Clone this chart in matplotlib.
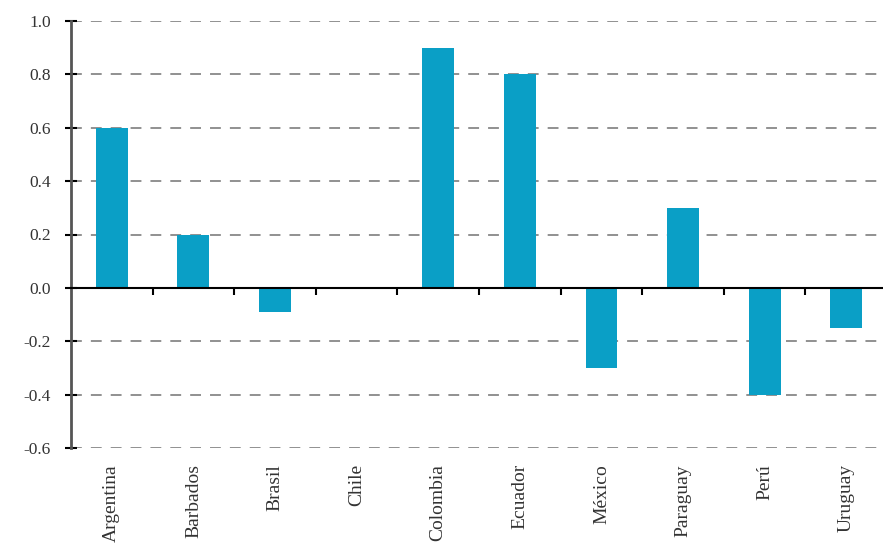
import matplotlib.pyplot as plt
import matplotlib.transforms as mtransforms
import numpy as np

# Valores por país
paises = ['Argentina', 'Barbados', 'Brasil', 'Chile', 'Colombia',
          'Ecuador', 'México', 'Paraguay', 'Perú', 'Uruguay']
valores = [0.6, 0.2, -0.09, 0.0, 0.9, 0.8, -0.3, 0.3, -0.4, -0.15]
yticks = [-0.6, -0.4, -0.2, 0.0, 0.2, 0.4, 0.6, 0.8, 1.0]
ylabels = ['-0.6', '-0.4', '-0.2', '0.0', '0.2', '0.4', '0.6', '0.8', '1.0']

plt.rcParams['font.family'] = ['Liberation Serif', 'DejaVu Serif']

fig = plt.figure(figsize=(8.83, 5.59), dpi=100)
ax = fig.add_axes([71 / 883, 1 - 448 / 559, 1 - 71 / 883, (448 - 21) / 559])

x = np.arange(len(paises))
ax.bar(x, valores, width=0.39, color='#0a9fc6', zorder=3)

ax.set_xlim(-0.5, 9.45)
ax.set_ylim(-0.6, 1.0)

# líneas de grilla punteadas
for v in yticks:
    if v != 0:
        ax.axhline(v, color='#888888', lw=1.3, ls=(0, (6, 5)), zorder=1)

ax.set_yticks(yticks)
ax.set_yticklabels(ylabels, fontsize=12.5, color='#333333')
ax.tick_params(axis='y', direction='inout', length=9, width=1.5, pad=10)

# eje x en cero con marcas entre categorías
ax.spines['bottom'].set_position(('data', 0))
ax.spines['bottom'].set_linewidth(1.5)
ax.spines['bottom'].set_zorder(4)
ax.spines['top'].set_visible(False)
ax.spines['right'].set_visible(False)
ax.spines['left'].set_linewidth(2)
ax.spines['left'].set_color('#555555')
ax.set_xticks(np.arange(0.5, len(paises) - 0.5, 1))
ax.set_xticklabels([])
ax.tick_params(axis='x', direction='out', length=5, width=1.5)

trans = mtransforms.blended_transform_factory(ax.transData, ax.transAxes)
for xi, nombre in zip(x, paises):
    ax.text(xi, -0.038, nombre, transform=trans, rotation=90,
            ha='center', va='top', fontsize=14, color='#333333')

fig.savefig('out.png', dpi=100)
